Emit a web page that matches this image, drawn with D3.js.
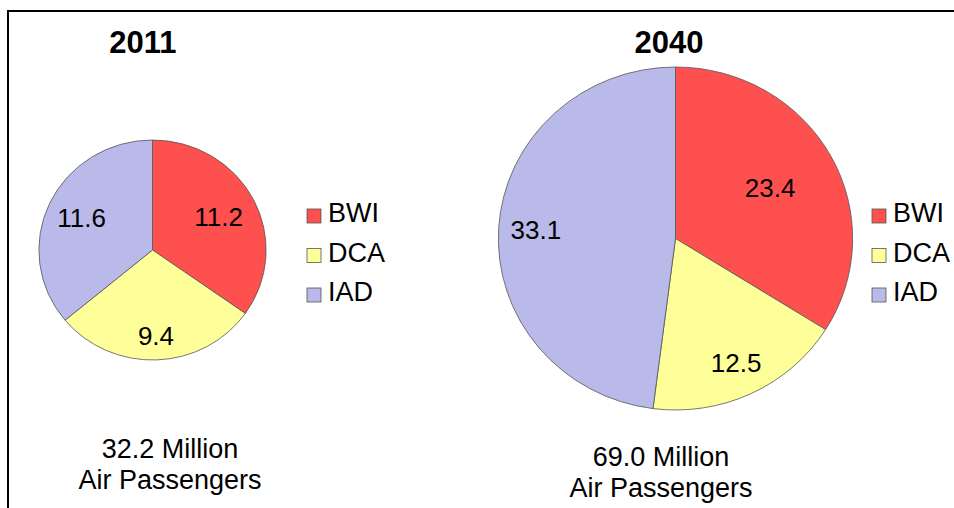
<!DOCTYPE html>
<html>
<head>
<meta charset="utf-8">
<script src="https://cdn.jsdelivr.net/npm/d3@7"></script>
<style>
  html, body { margin: 0; padding: 0; background: #fff; }
  svg { display: block; font-family: Arial, "Liberation Sans", sans-serif; }
</style>
</head>
<body>
<svg id="chart" width="954" height="508"></svg>
<script>
// ---- data ----
const airports = ["BWI", "DCA", "IAD"];
const years = ["2011", "2040"];
const values2011 = [11.2, 9.4, 11.6];
const values2040 = [23.4, 12.5, 33.1];
const colors = ["#FF5050", "#FFFF99", "#B9B9EA"];
const totalSuffix = "Million";
const totalLine2 = "Air Passengers";

// ---- layout ----
const W = 954, H = 508;
const stretchX = 1.033;
const layouts = [
  { cx: 152.5, cy: 250, r: 110, titleX: 143, legendX: 307, totalX: 170, totalY: 458, labelFrac: [0.655, 0.78, 0.69] },
  { cx: 675.5, cy: 238.5, r: 171.5, titleX: 669, legendX: 872, totalX: 661, totalY: 466, labelFrac: [0.61, 0.8, 0.79] }
];
const seriesList = [values2011, values2040];

const svg = d3.select("#chart");

// frame
svg.append("line").attr("x1", 8).attr("y1", 11).attr("x2", W).attr("y2", 11)
  .attr("stroke", "#000").attr("stroke-width", 2);
svg.append("line").attr("x1", 8).attr("y1", 10).attr("x2", 8).attr("y2", H)
  .attr("stroke", "#000").attr("stroke-width", 2);

const pie = d3.pie().sort(null).value(d => d).startAngle(0).endAngle(2 * Math.PI);
const fmt = d3.format(".1f");

seriesList.forEach((vals, i) => {
  const L = layouts[i];
  const arcs = pie(vals);
  const arc = d3.arc().innerRadius(0).outerRadius(L.r);

  // title
  svg.append("text")
    .attr("x", L.titleX).attr("y", 53)
    .attr("text-anchor", "middle")
    .attr("font-size", 31).attr("font-weight", "bold")
    .attr("fill", "#000")
    .text(years[i]);

  const g = svg.append("g").attr("transform", `translate(${L.cx},${L.cy})`);
  g.append("g").attr("transform", `scale(${stretchX},1)`)
    .selectAll("path").data(arcs).join("path")
    .attr("d", arc)
    .attr("fill", (d, j) => colors[j])
    .attr("stroke", "#555")
    .attr("stroke-width", 0.8)
    .attr("vector-effect", "non-scaling-stroke");

  g.selectAll("text.lbl").data(arcs).join("text")
    .attr("class", "lbl")
    .attr("x", (d, j) => {
      const a = (d.startAngle + d.endAngle) / 2;
      return Math.sin(a) * L.r * L.labelFrac[j] * stretchX;
    })
    .attr("y", (d, j) => {
      const a = (d.startAngle + d.endAngle) / 2;
      return -Math.cos(a) * L.r * L.labelFrac[j];
    })
    .attr("dy", "0.36em")
    .attr("text-anchor", "middle")
    .attr("font-size", 26)
    .attr("fill", "#000")
    .text(d => fmt(d.data));

  // legend
  const leg = svg.append("g");
  airports.forEach((name, j) => {
    const by = 222 + j * 39.5;
    leg.append("rect")
      .attr("x", L.legendX).attr("y", by - 13)
      .attr("width", 14).attr("height", 14)
      .attr("fill", colors[j])
      .attr("stroke", "#555").attr("stroke-width", 0.8);
    leg.append("text")
      .attr("x", L.legendX + 21).attr("y", by)
      .attr("font-size", 27)
      .attr("fill", "#000")
      .text(name);
  });

  // totals
  const total = d3.sum(vals);
  const t = svg.append("text")
    .attr("text-anchor", "middle")
    .attr("font-size", 27)
    .attr("fill", "#000");
  t.append("tspan").attr("x", L.totalX).attr("y", L.totalY).text(`${fmt(total)} ${totalSuffix}`);
  t.append("tspan").attr("x", L.totalX).attr("y", L.totalY + 31).text(totalLine2);
});
</script>
</body>
</html>
